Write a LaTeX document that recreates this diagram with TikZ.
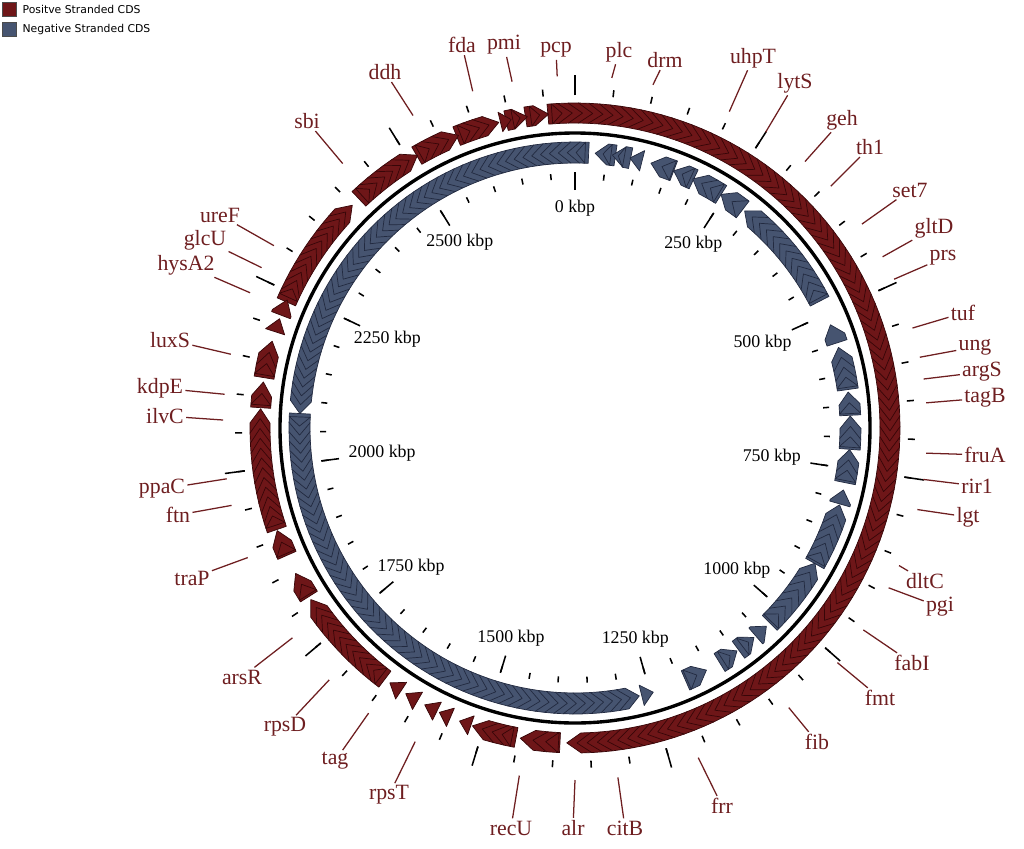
\documentclass[tikz,border=0pt]{standalone}
\usepackage{fontspec}
\setmainfont{Liberation Serif}
\newfontfamily\legendfont{DejaVu Sans}
\newfontfamily\labelfont{Liberation Serif}
\usetikzlibrary{positioning}

\definecolor{posfill}{RGB}{110,22,24}
\definecolor{posedge}{RGB}{55,6,8}
\definecolor{negfill}{RGB}{70,84,112}
\definecolor{negedge}{RGB}{34,42,64}
\definecolor{genered}{RGB}{110,30,32}

\newcommand{\cdshead}{2.6}
\newcommand{\cdsarrow}[5]{%
  \pgfmathsetmacro{\cdsbase}{#3+(#2-#3)*min(1,\cdshead/abs(#2-#3))}%
  \pgfmathsetmacro{\cdsmid}{(#4+#5)/2}%
  \filldraw[#1] ({575+#4*sin(#2)},{428-#4*cos(#2)}) -- ({575+#4*sin(\cdsbase)},{428-#4*cos(\cdsbase)})
    -- ({575+\cdsmid*sin(#3)},{428-\cdsmid*cos(#3)}) -- ({575+#5*sin(\cdsbase)},{428-#5*cos(\cdsbase)})
    -- ({575+#5*sin(#2)},{428-#5*cos(#2)}) -- cycle;}
\newcommand{\posrun}[3]{%
  \pgfmathsetmacro{\cdsstep}{(#2-#1)/#3}%
  \foreach \k in {#3,...,1}{%
    \pgfmathsetmacro{\cdstail}{#1+(\k-1)*\cdsstep-(\k>1)*\cdshead}%
    \pgfmathsetmacro{\cdstip}{#1+\k*\cdsstep}%
    \cdsarrow{pos arrow}{\cdstail}{\cdstip}{305}{325}}}
\newcommand{\negrun}[3]{%
  \pgfmathsetmacro{\cdsstep}{(#2-#1)/#3}%
  \foreach \k in {1,...,#3}{%
    \pgfmathsetmacro{\cdstail}{#1+\k*\cdsstep+(\k<#3)*\cdshead}%
    \pgfmathsetmacro{\cdstip}{#1+(\k-1)*\cdsstep}%
    \cdsarrow{neg arrow}{\cdstail}{\cdstip}{265}{286}}}

\begin{document}
\begin{tikzpicture}[x=0.025cm, y=-0.025cm,
    pos arrow/.style={fill=posfill, draw=posedge, line width=.5pt, line join=round},
    neg arrow/.style={fill=negfill, draw=negedge, line width=.5pt, line join=round},
    tick line/.style={line width=1.1pt},
    kbp node/.style={font=\labelfont\fontsize{12.7}{15}\selectfont, inner sep=1pt},
    gene node/.style={text=genered, font=\labelfont\fontsize{15.5}{18}\selectfont, inner sep=1.5pt},
    leader line/.style={draw=genered, line width=.9pt},
    legend box/.style={draw=black!70, line width=.3pt, minimum size=10pt, inner sep=0pt},
    legend node/.style={font=\legendfont\fontsize{7.7}{9}\selectfont, inner sep=0pt}]
\useasboundingbox (0,0) rectangle (1024,848);

% positive strand
\posrun{355.8}{541.5}{100}
\posrun{351.9}{355.2}{2}
\posrun{348.6}{351.3}{2}
\posrun{346.3}{348.3}{1}
\posrun{338.7}{346.0}{4}
\posrun{330.5}{338.3}{4}
\posrun{317.5}{330.0}{7}
\posrun{294.5}{315.0}{12}
\posrun{291.0}{294.0}{1}
\posrun{287.8}{290.3}{1}
\posrun{279.7}{286.0}{3}
\posrun{274.2}{278.4}{2}
\posrun{252.0}{273.5}{12}
\posrun{246.5}{251.0}{2}
\posrun{238.0}{242.5}{2}
\posrun{218.0}{237.0}{11}
\posrun{213.5}{216.0}{1}
\posrun{210.0}{212.5}{1}
\posrun{206.0}{208.5}{1}
\posrun{203.3}{205.5}{1}
\posrun{199.3}{201.5}{1}
\posrun{191.5}{199.0}{4}
\posrun{183.0}{190.0}{3}

% negative strand
\negrun{4.2}{7.5}{2}
\negrun{7.8}{10.3}{2}
\negrun{11.5}{14.1}{1}
\negrun{16.0}{20.8}{2}
\negrun{21.0}{24.8}{2}
\negrun{25.3}{31.5}{3}
\negrun{32.0}{37.5}{2}
\negrun{38.0}{62.0}{12}
\negrun{68.0}{72.0}{1}
\negrun{73.0}{81.5}{4}
\negrun{82.5}{87.0}{2}
\negrun{87.5}{94.0}{3}
\negrun{94.5}{101.0}{3}
\negrun{103.0}{106.0}{1}
\negrun{106.2}{119.0}{6}
\negrun{119.4}{134.6}{7}
\negrun{136.0}{139.0}{1}
\negrun{139.5}{142.5}{2}
\negrun{144.0}{147.5}{2}
\negrun{151.5}{156.0}{2}
\negrun{163.5}{166.0}{1}
\negrun{166.5}{272.3}{56}
\negrun{273.0}{362.1}{48}

\coordinate (centre) at (575,428);
\draw[line width=2.4pt] (centre) circle [radius=295];

\foreach \k in {0,...,54}{
  \pgfmathsetmacro{\ang}{\k*6.565}
  \draw[tick line] ({575+249*sin(\ang)},{428-249*cos(\ang)}) -- ({575+255*sin(\ang)},{428-255*cos(\ang)});
  \draw[tick line] ({575+333*sin(\ang)},{428-333*cos(\ang)}) -- ({575+340*sin(\ang)},{428-340*cos(\ang)});
}
\foreach \k in {0,...,10}{
  \pgfmathsetmacro{\ang}{\k*32.825}
  \pgfmathsetmacro{\an}{mod(450-\ang,360)}
  \pgfmathtruncatemacro{\kb}{\k*250}
  \draw[tick line] ({575+238*sin(\ang)},{428-238*cos(\ang)}) -- ({575+256*sin(\ang)},{428-256*cos(\ang)});
  \draw[tick line] ({575+333*sin(\ang)},{428-333*cos(\ang)}) -- ({575+353*sin(\ang)},{428-353*cos(\ang)});
  \node[kbp node, anchor=\an] (kbp\k) at ({575+230*sin(\ang)},{428-230*cos(\ang)}) {\kb\ kbp};
}

\foreach \g/\ang/\px/\py in {pcp/357.1/556/50, plc/6.0/619/52, drm/12.8/665/60, uhpT/26.0/753/58,
    lytS/32.8/795/83, geh/40.8/842/120, th1/46.6/870/147, set7/54.6/910/190, gltD/60.9/934/228,
    prs/65.0/943/258, tuf/73.5/963/313, ung/78.4/975/347, argS/82.0/982/372, tagB/85.9/985/398,
    fruA/94.1/985/455, rir1/98.4/977/486, lgt/103.4/968/517, dltC/113/925/581, pgi/117/940/607,
    fabI/125.0/912/663, fmt/131.8/880/698, fib/142.6/817/742, frr/159.5/722/806, citB/173/625/828,
    alr/180/573/828, recU/189.1/511/828, rpsT/207/389/795, tag/215.9/335/761, rpsD/224.3/285/727,
    arsR/233.4/242/677, traP/248.4/192/578, ftn/257.3/178/515, ppaC/261.7/162/489, ilvC/271.3/165/416,
    kdpE/275.5/160/388, luxS/282.1/170/340, hysA2/292.6/186/265, glcU/297.1/205/240, ureF/301.2/220/215,
    sbi/318.7/307/121, ddh/332.6/385/72, fda/343.1/462/45, pmi/349.7/504/45}{
  \coordinate (\g-r) at ({575+352*sin(\ang)},{428-352*cos(\ang)});
  \node[gene node] (\g) at (\px,\py) {\g};
  \draw[leader line] (\g-r) -- (\g);
}

\node[legend box, fill=posfill] (pos key) at (9.5,9) {};
\node[legend node, right=4pt of pos key] (pos text) {Positve Stranded CDS};
\node[legend box, fill=negfill, below=4.3pt of pos key] (neg key) {};
\node[legend node, right=4pt of neg key] (neg text) {Negative Stranded CDS};
\end{tikzpicture}
\end{document}
